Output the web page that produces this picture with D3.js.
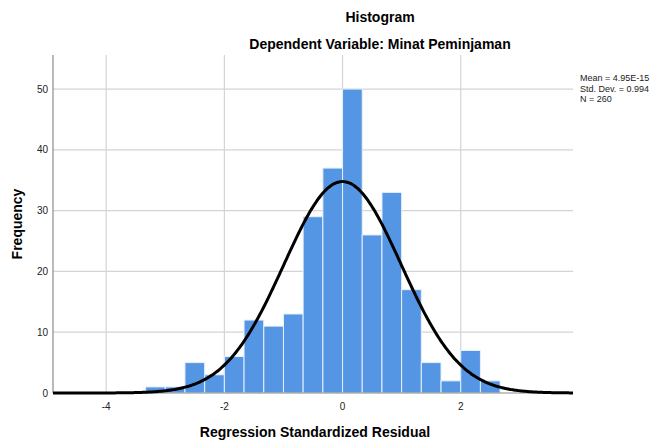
<!DOCTYPE html>
<html>
<head>
<meta charset="utf-8">
<script src="https://cdn.jsdelivr.net/npm/d3@7"></script>
<style>
body{margin:0;background:#fff;}
text{font-family:"Liberation Sans",Arial,sans-serif;}
</style>
</head>
<body>
<script>
// data
const binLower=[-3.333,-3.0,-2.667,-2.333,-2.0,-1.667,-1.333,-1.0,-0.667,-0.333,0.0,0.333,0.667,1.0,1.333,1.667,2.0,2.333]
const binWidth=0.3333
const counts=[1,1,5,3,6,12,11,13,29,37,50,26,33,17,5,2,7,2]
const xTicks=[-4,-2,0,2]
const yTicks=[0,10,20,30,40,50]
const stats={mean:4.95e-15,sd:0.994,n:260}
const legendLines=["Mean = 4.95E-15","Std. Dev. = 0.994","N = 260"]

// constants
const W=654,H=441
const m={top:55,right:81,bottom:48,left:53}

const svg=d3.select("body").append("svg")
  .attr("width",W).attr("height",H)

const x=d3.scaleLinear().domain([-4.9,3.9]).range([m.left,W-m.right])
const y=d3.scaleLinear().domain([0,55.6]).range([H-m.bottom,m.top])

// gridlines
svg.append("g").selectAll("line.v")
  .data(xTicks).enter().append("line")
  .attr("x1",d=>x(d)).attr("x2",d=>x(d))
  .attr("y1",y(0)).attr("y2",m.top)
  .attr("stroke","#d4d4d4").attr("stroke-width",1.2)
svg.append("g").selectAll("line.h")
  .data(yTicks.slice(1)).enter().append("line")
  .attr("x1",m.left).attr("x2",W-m.right)
  .attr("y1",d=>y(d)).attr("y2",d=>y(d))
  .attr("stroke","#d4d4d4").attr("stroke-width",1.2)

// bars
svg.append("g").selectAll("rect")
  .data(counts).enter().append("rect")
  .attr("x",(d,i)=>x(binLower[i]))
  .attr("width",(d,i)=>x(binLower[i]+binWidth)-x(binLower[i]))
  .attr("y",d=>y(d))
  .attr("height",d=>y(0)-y(d))
  .attr("fill","#5596e4")
  .attr("stroke","#e8f0fb").attr("stroke-width",1)

// axes lines
svg.append("line")
  .attr("x1",m.left).attr("x2",m.left)
  .attr("y1",m.top).attr("y2",y(0))
  .attr("stroke","#8c8c8c").attr("stroke-width",1.2)
svg.append("line")
  .attr("x1",m.left).attr("x2",W-m.right)
  .attr("y1",y(0)).attr("y2",y(0))
  .attr("stroke","#8c8c8c").attr("stroke-width",1.2)

// normal curve
const scaleN=stats.n*binWidth/(stats.sd*Math.sqrt(2*Math.PI))
const curvePts=d3.range(-4.9,3.901,0.02).map(v=>[v,scaleN*Math.exp(-0.5*Math.pow((v-stats.mean)/stats.sd,2))])
svg.append("path")
  .datum(curvePts)
  .attr("d",d3.line().x(d=>x(d[0])).y(d=>y(d[1])).curve(d3.curveBasis))
  .attr("fill","none").attr("stroke","#000").attr("stroke-width",3)

// tick labels
svg.append("g").selectAll("text")
  .data(xTicks).enter().append("text")
  .attr("x",d=>x(d)).attr("y",y(0)+17)
  .attr("text-anchor","middle")
  .attr("font-size",10).attr("fill","#222")
  .text(d=>d)
svg.append("g").selectAll("text")
  .data(yTicks).enter().append("text")
  .attr("x",m.left-5).attr("y",d=>y(d)+3.5)
  .attr("text-anchor","end")
  .attr("font-size",10).attr("fill","#222")
  .text(d=>d)

// titles
svg.append("text").attr("x",380).attr("y",22)
  .attr("text-anchor","middle").attr("font-size",14).attr("font-weight",700)
  .text("Histogram")
svg.append("text").attr("x",380).attr("y",49)
  .attr("text-anchor","middle").attr("font-size",14).attr("font-weight",700)
  .text("Dependent Variable: Minat Peminjaman")
svg.append("text").attr("x",315).attr("y",437)
  .attr("text-anchor","middle").attr("font-size",14).attr("font-weight",700)
  .text("Regression Standardized Residual")
svg.append("text")
  .attr("transform","translate(22,"+((m.top+y(0))/2)+") rotate(-90)")
  .attr("text-anchor","middle").attr("font-size",14).attr("font-weight",700)
  .text("Frequency")

// legend
svg.append("g").selectAll("text")
  .data(legendLines).enter().append("text")
  .attr("x",580).attr("y",(d,i)=>81+i*10.5)
  .attr("font-size",9).attr("fill","#222")
  .text(d=>d)
</script>
</body>
</html>
